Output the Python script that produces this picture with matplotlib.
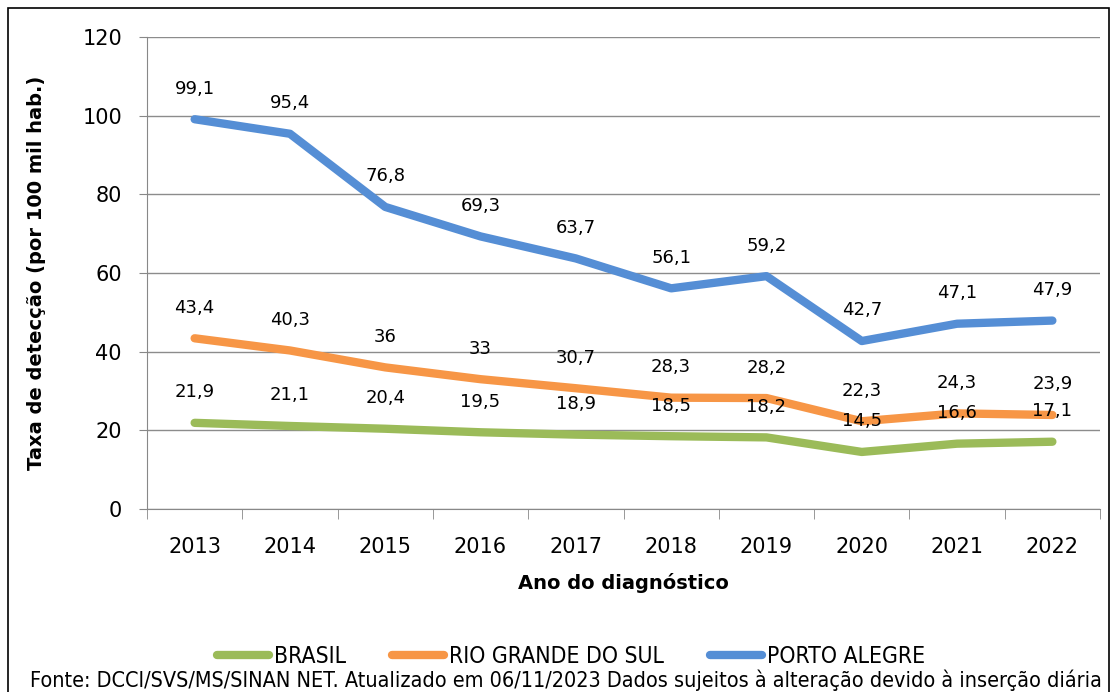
import matplotlib.pyplot as plt
from matplotlib.patches import Rectangle
from matplotlib.font_manager import FontProperties

# data
anos = ["2013", "2014", "2015", "2016", "2017", "2018", "2019", "2020", "2021", "2022"]
brasil = [21.9, 21.1, 20.4, 19.5, 18.9, 18.5, 18.2, 14.5, 16.6, 17.1]
rio_grande_sul = [43.4, 40.3, 36, 33, 30.7, 28.3, 28.2, 22.3, 24.3, 23.9]
porto_alegre = [99.1, 95.4, 76.8, 69.3, 63.7, 56.1, 59.2, 42.7, 47.1, 47.9]

series = [
    ("BRASIL", brasil, "#9BBB59"),
    ("RIO GRANDE DO SUL", rio_grande_sul, "#F79646"),
    ("PORTO ALEGRE", porto_alegre, "#558ED5"),
]

fig = plt.figure(figsize=(11.17, 6.92), dpi=100)
ax = fig.add_axes([0.1316, 0.2645, 0.8532, 0.682])

x = list(range(len(anos)))
for nome, vals, cor in series:
    ax.plot(x, vals, color=cor, lw=6, label=nome, solid_capstyle="round")
    for xi, v in zip(x, vals):
        txt = f"{v:g}".replace(".", ",")
        ax.annotate(txt, (xi, v), xytext=(0, 22), textcoords="offset points",
                    ha="center", va="center", fontsize=13, family="DejaVu Sans")

ax.set_xlim(-0.5, 9.5)
ax.set_ylim(0, 120)
ax.set_yticks(range(0, 121, 20))
ax.set_xticks(x)
ax.set_xticklabels(anos)
ax.set_xticks([i - 0.5 for i in range(11)], minor=True)
ax.tick_params(axis="x", which="major", length=0, pad=20, labelsize=15)
ax.tick_params(axis="x", which="minor", length=7, color="#888888", direction="out")
ax.tick_params(axis="y", length=6, color="#888888", labelsize=15, pad=12)

ax.grid(axis="y", color="#8c8c8c", lw=1)
ax.set_axisbelow(True)
for s in ["top", "right"]:
    ax.spines[s].set_visible(False)
for s in ["left", "bottom"]:
    ax.spines[s].set_color("#888888")

ax.set_xlabel("Ano do diagnóstico", fontsize=14, fontweight="bold", labelpad=12)
ax.set_ylabel("Taxa de detecção (por 100 mil hab.)", fontsize=14, fontweight="bold", labelpad=26)

narrow = FontProperties(family="DejaVu Sans", stretch="condensed", size=16.5)
fig.legend(loc="center", bbox_to_anchor=(0.511, 0.051), ncol=3, frameon=False,
           prop=narrow, handlelength=2.3, columnspacing=2.0, handletextpad=0.2)

fig.text(30 / 1117, 0.002, "Fonte: DCCI/SVS/MS/SINAN NET. Atualizado em 06/11/2023 Dados sujeitos à alteração devido à inserção diária",
         ha="left", va="bottom", fontproperties=FontProperties(family="DejaVu Sans", stretch="condensed", size=15.5))

fig.patches.append(Rectangle((8 / 1117, -0.05), 1101 / 1117, 1.05 - 8 / 692,
                             transform=fig.transFigure, fill=False, ec="black", lw=1.2))

plt.savefig("out.png", dpi=100)
